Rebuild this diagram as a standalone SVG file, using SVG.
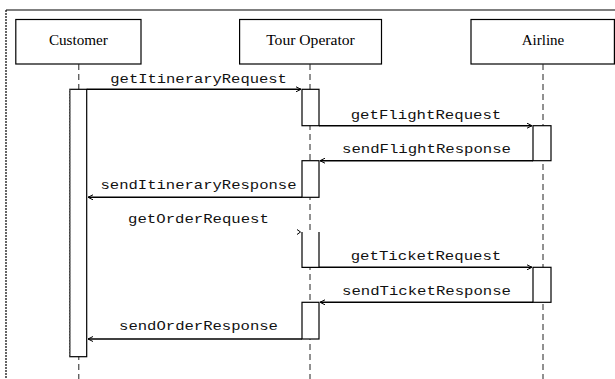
<svg xmlns="http://www.w3.org/2000/svg" width="615" height="379" viewBox="0 0 615 379">
<style>
.hdr{fill:#fff;stroke:#000;stroke-width:1.2}
.ht{font-family:"Liberation Serif",serif;font-size:14px;text-anchor:middle;fill:#000}
.life{stroke:#222;stroke-width:1;stroke-dasharray:6 4;fill:none}
.act{fill:#fff;stroke:#000;stroke-width:1.2}
.actl{stroke:#777;stroke-width:1;stroke-dasharray:2 1}
.msg{stroke:#000;stroke-width:1.5;fill:none}
.mt{font-family:"Liberation Mono",monospace;font-size:13px;text-anchor:middle;fill:#111}
</style>
<defs>
<marker id="ah" viewBox="0 0 6 6" refX="6" refY="3" markerWidth="6" markerHeight="6" markerUnits="userSpaceOnUse" orient="auto">
<polyline points="1,0.5 6,3 1,5.5" fill="none" stroke="#000" stroke-width="1"/>
</marker>
</defs>
<rect width="615" height="379" fill="#fff"/>
<g id="frame">
<line x1="6" y1="10" x2="615" y2="10" stroke="#000" stroke-width="1.2"/>
<line x1="6" y1="10" x2="6" y2="379" stroke="#000" stroke-width="1.2" stroke-dasharray="2 1"/>
</g>
<g id="customer">
<rect class="hdr" x="15.8" y="19.5" width="125.2" height="44.5"/>
<text class="ht" x="78.4" y="45" textLength="59" lengthAdjust="spacingAndGlyphs">Customer</text>
<line class="life" x1="78.8" y1="64" x2="78.8" y2="379"/>
<rect class="act" x="69.8" y="89.3" width="16.9" height="267.4"/>
<line class="actl" x1="69.8" y1="89.3" x2="69.8" y2="356.7"/>
</g>
<g id="tour-operator">
<rect class="hdr" x="239.6" y="19.5" width="141.9" height="44.5"/>
<text class="ht" x="310.5" y="45" textLength="88.7" lengthAdjust="spacingAndGlyphs">Tour Operator</text>
<line class="life" x1="310" y1="64" x2="310" y2="379"/>
<rect class="act" x="302" y="89.3" width="17" height="36.4"/>
<rect class="act" x="302" y="160.7" width="17" height="36.6"/>
<path d="M302,232 V267.3 H319 V232" fill="#fff" stroke="#000" stroke-width="1.2"/>
<rect class="act" x="302" y="302.3" width="17" height="36.7"/>
</g>
<g id="airline">
<rect class="hdr" x="471" y="19.5" width="143.4" height="44.5"/>
<text class="ht" x="543" y="45" textLength="42.6" lengthAdjust="spacingAndGlyphs">Airline</text>
<line class="life" x1="543" y1="64" x2="543" y2="379"/>
<rect class="act" x="533" y="125.7" width="18" height="35"/>
<rect class="act" x="533" y="267.3" width="18" height="35"/>
</g>
<g id="connectors">
<line class="msg" x1="86.7" y1="89.3" x2="301" y2="89.3" marker-end="url(#ah)"/>
<text class="mt" x="198.6" y="83" textLength="176.6" lengthAdjust="spacingAndGlyphs">getItineraryRequest</text>
<line class="msg" x1="319" y1="125.7" x2="532" y2="125.7" marker-end="url(#ah)"/>
<text class="mt" x="426" y="119" textLength="150.6" lengthAdjust="spacingAndGlyphs">getFlightRequest</text>
<line class="msg" x1="533" y1="160.7" x2="320" y2="160.7" marker-end="url(#ah)"/>
<text class="mt" x="426.5" y="153" textLength="169" lengthAdjust="spacingAndGlyphs">sendFlightResponse</text>
<line class="msg" x1="302" y1="197.3" x2="88" y2="197.3" marker-end="url(#ah)"/>
<text class="mt" x="198.5" y="189" textLength="196" lengthAdjust="spacingAndGlyphs">sendItineraryResponse</text>
<polyline points="297,229.5 300.5,232 297,234.5" fill="none" stroke="#000" stroke-width="1"/>
<text class="mt" x="198.5" y="223" textLength="140.8" lengthAdjust="spacingAndGlyphs">getOrderRequest</text>
<line class="msg" x1="319" y1="267.3" x2="532" y2="267.3" marker-end="url(#ah)"/>
<text class="mt" x="426" y="260" textLength="150.6" lengthAdjust="spacingAndGlyphs">getTicketRequest</text>
<line class="msg" x1="533" y1="302.3" x2="320" y2="302.3" marker-end="url(#ah)"/>
<text class="mt" x="426.5" y="295" textLength="169" lengthAdjust="spacingAndGlyphs">sendTicketResponse</text>
<line class="msg" x1="302" y1="339" x2="88" y2="339" marker-end="url(#ah)"/>
<text class="mt" x="198.5" y="330" textLength="158.9" lengthAdjust="spacingAndGlyphs">sendOrderResponse</text>
</g>
</svg>
